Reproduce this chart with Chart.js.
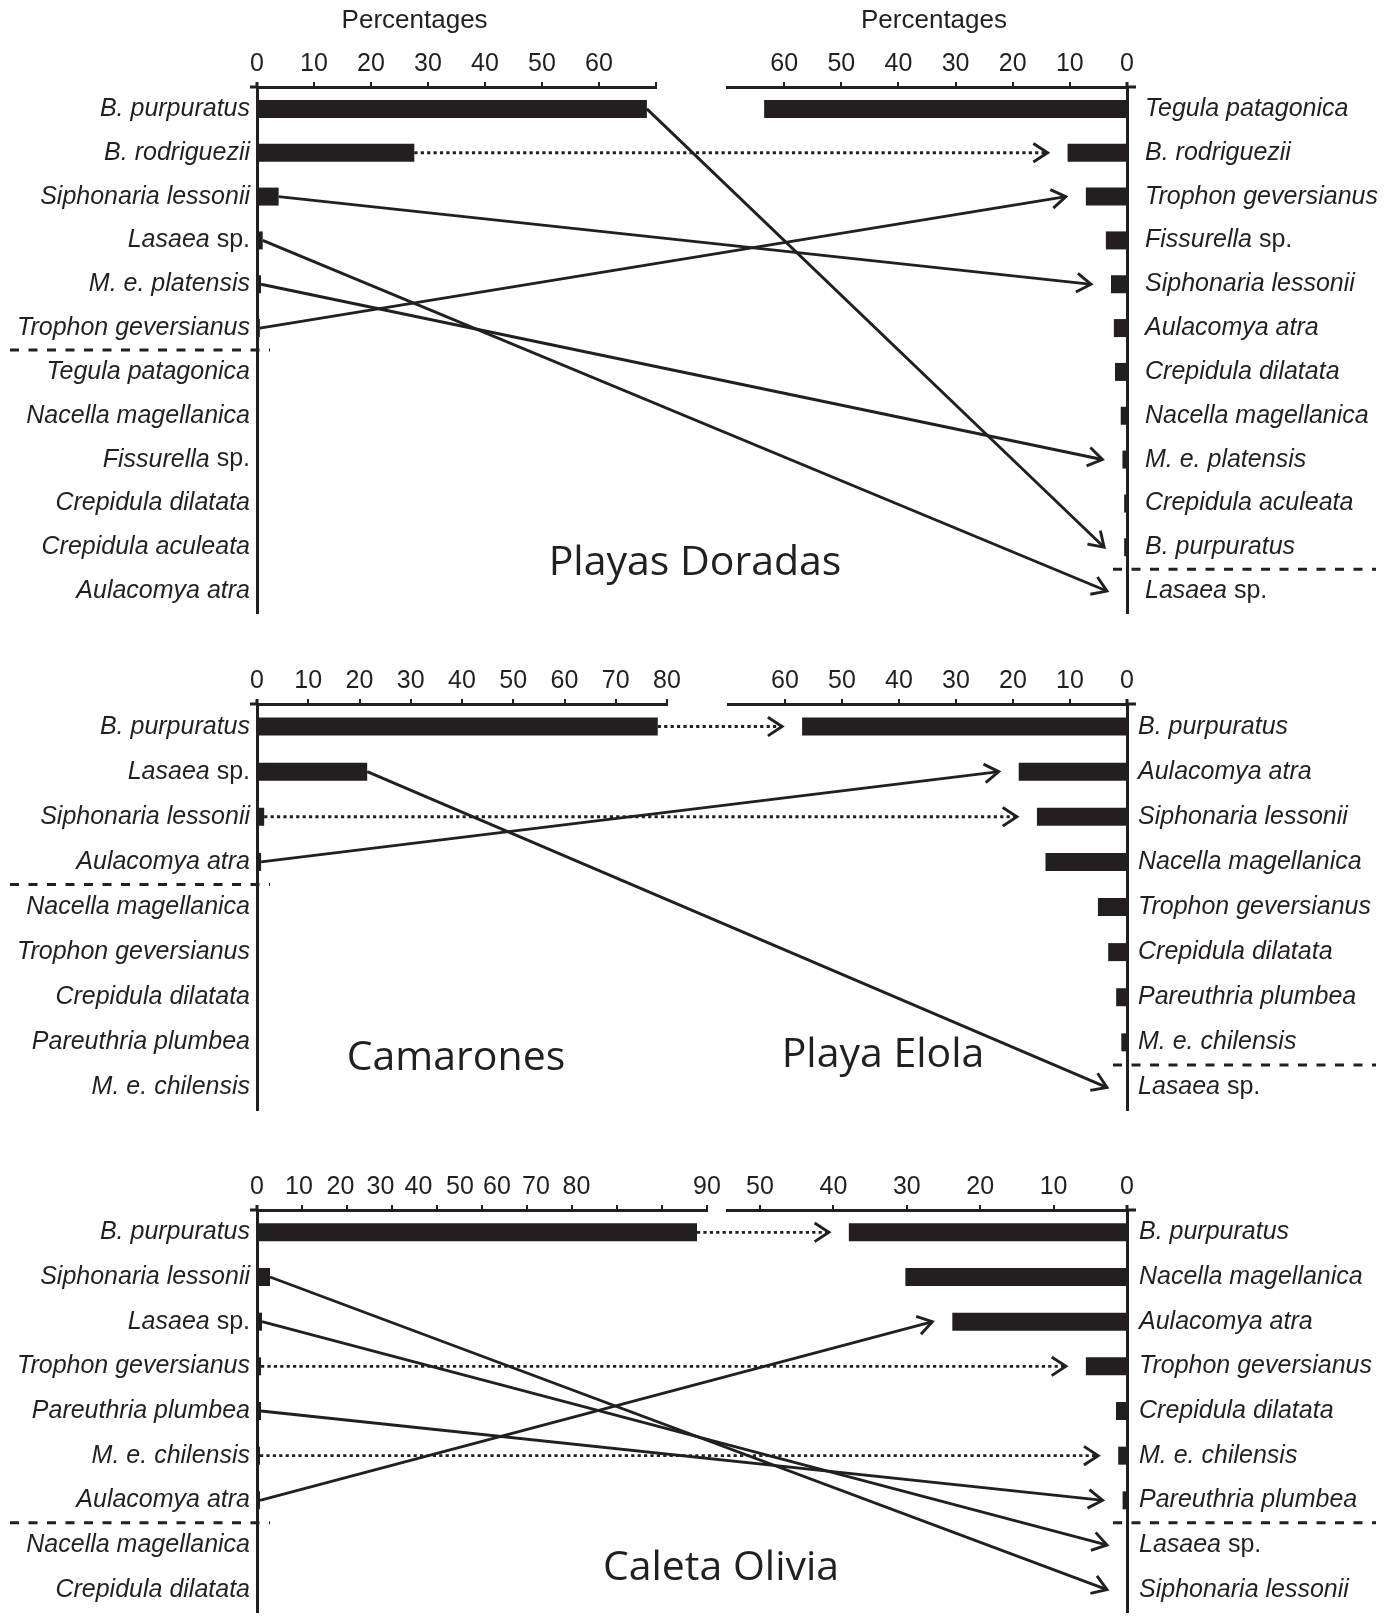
<!DOCTYPE html>
<html><head><meta charset="utf-8">
<script src="https://cdn.jsdelivr.net/npm/chart.js@4.4.1/dist/chart.umd.min.js"></script>
<style>
html,body{margin:0;padding:0;background:#fff;}
#wrap{position:relative;width:1398px;height:1616px;background:#fff;overflow:hidden;}
.panel{position:absolute;left:0;width:1398px;}
canvas{display:block;}
</style></head><body>
<div id="wrap">
<div class="panel" style="top:0px;height:622px"><canvas id="c1" width="1398" height="622"></canvas></div>
<div class="panel" style="top:640px;height:476px"><canvas id="c2" width="1398" height="476"></canvas></div>
<div class="panel" style="top:1150px;height:466px"><canvas id="c3" width="1398" height="466"></canvas></div>
</div>
<script>
// ---------------- DATA ----------------
// Panel 1: Playas Doradas
const p1LeftCategories = ['B. purpuratus','B. rodriguezii','Siphonaria lessonii','Lasaea sp.','M. e. platensis','Trophon geversianus','Tegula patagonica','Nacella magellanica','Fissurella sp.','Crepidula dilatata','Crepidula aculeata','Aulacomya atra'];
const p1LeftValues = [68.4, 27.6, 3.8, 1.0, 0.7, 0.5, 0, 0, 0, 0, 0, 0];
const p1RightCategories = ['Tegula patagonica','B. rodriguezii','Trophon geversianus','Fissurella sp.','Siphonaria lessonii','Aulacomya atra','Crepidula dilatata','Nacella magellanica','M. e. platensis','Crepidula aculeata','B. purpuratus','Lasaea sp.'];
const p1RightValues = [63.5, 10.4, 7.2, 3.7, 2.8, 2.3, 2.1, 1.1, 0.8, 0.5, 0.5, 0];
const p1Links = [['B. purpuratus','solid'],['B. rodriguezii','dotted'],['Siphonaria lessonii','solid'],['Lasaea sp.','solid'],['M. e. platensis','solid'],['Trophon geversianus','solid']];
const p1LeftSplitAfter = 5, p1RightSplitAfter = 10;
const p1AxisTitle = 'Percentages';
const p1LeftTickMarks = [0,10,20,30,40,50,60,70];
const p1LeftTickLabels = ['0','10','20','30','40','50','60'];
const p1LeftTickLabelAt = [0,10,20,30,40,50,60];
const p1RightTickMarks = [0,10,20,30,40,50,60];
const p1RightTickLabels = ['0','10','20','30','40','50','60'];
const p1RightTickLabelAt = [0,10,20,30,40,50,60];

// Panel 2: Camarones (left) vs. Playa Elola (right)
const p2LeftCategories = ['B. purpuratus','Lasaea sp.','Siphonaria lessonii','Aulacomya atra','Nacella magellanica','Trophon geversianus','Crepidula dilatata','Pareuthria plumbea','M. e. chilensis'];
const p2LeftValues = [78.2, 21.5, 1.4, 0.8, 0, 0, 0, 0, 0];
const p2RightCategories = ['B. purpuratus','Aulacomya atra','Siphonaria lessonii','Nacella magellanica','Trophon geversianus','Crepidula dilatata','Pareuthria plumbea','M. e. chilensis','Lasaea sp.'];
const p2RightValues = [57.0, 19.0, 15.8, 14.3, 5.1, 3.3, 1.9, 1.0, 0];
const p2Links = [['B. purpuratus','dotted'],['Lasaea sp.','solid'],['Siphonaria lessonii','dotted'],['Aulacomya atra','solid']];
const p2LeftSplitAfter = 3, p2RightSplitAfter = 7;
const p2LeftTickMarks = [0,10,20,30,40,50,60,70,80];
const p2LeftTickLabels = ['0','10','20','30','40','50','60','70','80'];
const p2LeftTickLabelAt = [0,10,20,30,40,50,60,70,80];
const p2RightTickMarks = [0,10,20,30,40,50,60];
const p2RightTickLabels = ['0','10','20','30','40','50','60'];
const p2RightTickLabelAt = [0,10,20,30,40,50,60];

// Panel 3: Caleta Olivia
const p3LeftCategories = ['B. purpuratus','Siphonaria lessonii','Lasaea sp.','Trophon geversianus','Pareuthria plumbea','M. e. chilensis','Aulacomya atra','Nacella magellanica','Crepidula dilatata'];
const p3LeftValues = [88.0, 2.6, 1.0, 0.8, 0.8, 0.6, 0.6, 0, 0];
const p3RightCategories = ['B. purpuratus','Nacella magellanica','Aulacomya atra','Trophon geversianus','Crepidula dilatata','M. e. chilensis','Pareuthria plumbea','Lasaea sp.','Siphonaria lessonii'];
const p3RightValues = [37.9, 30.2, 23.8, 5.6, 1.5, 1.2, 0.6, 0, 0];
const p3Links = [['B. purpuratus','dotted'],['Siphonaria lessonii','solid'],['Lasaea sp.','solid'],['Trophon geversianus','dotted'],['Pareuthria plumbea','solid'],['M. e. chilensis','dotted'],['Aulacomya atra','solid']];
const p3LeftSplitAfter = 6, p3RightSplitAfter = 6;
const p3LeftTickMarks = [0,9,18,27,36,45,54,63,72,81,90];
const p3LeftTickLabels = ['0','10','20','30','40','50','60','70','80','90'];
const p3LeftTickLabelAt = [0,8.4,16.7,24.7,32.3,40.6,48.0,55.8,63.9,90];
const p3RightTickMarks = [0,10,20,30,40,50];
const p3RightTickLabels = ['0','10','20','30','40','50'];
const p3RightTickLabelAt = [0,10,20,30,40,50];

// ---------------- STYLE / HELPERS ----------------
const INK = '#231f20';
const SANS = '"Liberation Sans", Arial, sans-serif';

function buildTicks(marks, labelAt, labels) {
  const ticks = marks.map(v => ({value: v, mark: true, text: ''}));
  labelAt.forEach((v, i) => {
    const t = ticks.find(k => Math.abs(k.value - v) < 1e-9);
    if (t) t.text = labels[i];
    else ticks.push({value: v, mark: false, text: labels[i]});
  });
  ticks.sort((a, b) => a.value - b.value);
  return ticks;
}

// order: higher weight is placed first (leftmost) in a top stack
function xAxis(o, height, order) {
  return {
    type: 'linear', position: 'top', stack: 'topRow', stackWeight: o.weight, weight: order,
    min: 0, max: o.max, reverse: !!o.reverse,
    afterBuildTicks: s => { s.ticks = buildTicks(o.marks, o.labelAt, o.labels); },
    afterFit: s => { s.height = height; },
    ticks: {autoSkip: false, maxRotation: 0, minRotation: 0, padding: 3, color: INK,
      font: {family: SANS, size: 25},
      callback: (v, i, ticks) => ticks[i].text},
    grid: {display: true, drawOnChartArea: false, drawTicks: true, tickLength: 5,
      lineWidth: 2, tickWidth: 2, color: 'rgba(0,0,0,0)',
      tickColor: c => (c.tick && c.tick.mark) ? INK : 'rgba(0,0,0,0)'},
    border: {display: true, width: 3, color: INK},
    title: {display: false}
  };
}

function speciesLabel(ctx, text, x, y, align) {
  const m = text.match(/^(.*?)( sp\.)$/);
  const parts = m ? [[m[1], 'italic'], [m[2], 'normal']] : [[text, 'italic']];
  ctx.save();
  ctx.fillStyle = INK; ctx.textBaseline = 'middle'; ctx.textAlign = 'left';
  const widths = parts.map(p => { ctx.font = p[1] + ' 25px ' + SANS; return ctx.measureText(p[0]).width; });
  const total = widths.reduce((a, b) => a + b, 0);
  let cx = align === 'right' ? x - total : x;
  parts.forEach((p, i) => { ctx.font = p[1] + ' 25px ' + SANS; ctx.fillText(p[0], cx, y); cx += widths[i]; });
  ctx.restore();
}

function line(ctx, x1, y1, x2, y2, w, dash) {
  ctx.save();
  ctx.strokeStyle = INK; ctx.lineWidth = w; ctx.lineCap = 'butt';
  if (dash) ctx.setLineDash(dash);
  ctx.beginPath(); ctx.moveTo(x1, y1); ctx.lineTo(x2, y2); ctx.stroke();
  ctx.restore();
}

function arrow(ctx, x1, y1, x2, y2, dotted) {
  const a = Math.atan2(y2 - y1, x2 - x1), L = 17, h = 0.58;
  line(ctx, x1, y1, x2 - 1.5 * Math.cos(a), y2 - 1.5 * Math.sin(a), 2.9, dotted ? [3.2, 3.2] : null);
  ctx.save();
  ctx.strokeStyle = INK; ctx.lineWidth = 2.9; ctx.lineJoin = 'miter';
  ctx.beginPath();
  ctx.moveTo(x2 - L * Math.cos(a - h), y2 - L * Math.sin(a - h));
  ctx.lineTo(x2, y2);
  ctx.lineTo(x2 - L * Math.cos(a + h), y2 - L * Math.sin(a + h));
  ctx.stroke();
  ctx.restore();
}

function overlay(cfg) {
  return {
    id: 'overlay',
    afterDraw(chart) {
      const ctx = chart.ctx, ca = chart.chartArea;
      const {xL, xR, yL, yR} = chart.scales;
      // small axis overshoots where the axes cross
      const ay = xL.bottom;
      line(ctx, ca.left - 7, ay, ca.left, ay, 3);
      line(ctx, ca.right, ay, ca.right + 9, ay, 3);
      line(ctx, ca.left, ca.top - 5, ca.left, ca.top, 3);
      line(ctx, ca.right, ca.top - 5, ca.right, ca.top, 3);
      // axis titles
      ctx.save();
      ctx.fillStyle = INK; ctx.textAlign = 'center'; ctx.textBaseline = 'middle';
      ctx.font = '26px ' + SANS;
      (cfg.axisTitles || []).forEach(t => {
        const s = chart.scales[t.axis];
        ctx.fillText(t.text, s.left + t.frac * s.width, t.y);
      });
      ctx.restore();
      // species labels
      cfg.leftCats.forEach((c, i) => speciesLabel(ctx, c, ca.left - 7, yL.getPixelForValue(i), 'right'));
      cfg.rightCats.forEach((c, i) => speciesLabel(ctx, c, ca.right + cfg.rightLabelGap, yR.getPixelForValue(i), 'left'));
      // dashed separators
      const yl = (yL.getPixelForValue(cfg.leftSplit) + yL.getPixelForValue(cfg.leftSplit + 1)) / 2;
      line(ctx, 10, yl, ca.left + 13, yl, 3, [9, 9.5]);
      const yr = (yR.getPixelForValue(cfg.rightSplit) + yR.getPixelForValue(cfg.rightSplit + 1)) / 2;
      line(ctx, ca.right - 14, yr, ca.right + 249, yr, 3, [9, 9.5]);
      // arrows
      cfg.links.forEach(([name, style]) => {
        const i = cfg.leftCats.indexOf(name), j = cfg.rightCats.indexOf(name);
        const x1 = xL.getPixelForValue(cfg.leftVals[i]), y1 = yL.getPixelForValue(i);
        const x2 = xR.getPixelForValue(cfg.rightVals[j]) - 20, y2 = yR.getPixelForValue(j);
        arrow(ctx, x1, y1, x2, y2, style === 'dotted');
      });
      // site names
      ctx.save();
      ctx.fillStyle = INK; ctx.textAlign = 'center'; ctx.textBaseline = 'alphabetic';
      ctx.font = '41px "Open Sans", "Noto Sans", sans-serif';
      cfg.names.forEach(n => ctx.fillText(n.text, n.x, n.y));
      ctx.restore();
    }
  };
}

function makePanel(cfg) {
  const barStyle = {backgroundColor: INK, borderWidth: 0, barThickness: 18, grouped: false, inflateAmount: 0};
  return new Chart(document.getElementById(cfg.id), {
    type: 'bar',
    data: {
      datasets: [
        Object.assign({data: cfg.leftVals, xAxisID: 'xL', yAxisID: 'yL'}, barStyle),
        Object.assign({data: cfg.rightVals, xAxisID: 'xR', yAxisID: 'yR'}, barStyle)
      ]
    },
    options: {
      indexAxis: 'y', responsive: false, animation: false, devicePixelRatio: 1, events: [],
      layout: {padding: {top: 0, left: 0, right: 0, bottom: cfg.padBottom}},
      plugins: {legend: {display: false}, tooltip: {enabled: false}, title: {display: false}},
      scales: {
        xL: xAxis(cfg.xL, cfg.axisHeight, 2),
        xGap: {type: 'linear', position: 'top', stack: 'topRow', stackWeight: cfg.gapWeight, weight: 1, min: 0, max: 1,
          grid: {display: false, drawTicks: false}, border: {display: false}, ticks: {display: false},
          afterFit: s => { s.height = cfg.axisHeight; }},
        xR: xAxis(cfg.xR, cfg.axisHeight, 0),
        yL: {type: 'category', position: 'left', labels: cfg.leftCats, offset: true,
          grid: {display: false}, ticks: {display: false}, border: {display: true, width: 3, color: INK},
          afterFit: s => { s.width = 257; }},
        yR: {type: 'category', position: 'right', labels: cfg.rightCats, offset: true,
          grid: {display: false}, ticks: {display: false}, border: {display: true, width: 3, color: INK},
          afterFit: s => { s.width = 271; }}
      }
    },
    plugins: [overlay(cfg)]
  });
}

makePanel({
  id: 'c1', leftCats: p1LeftCategories, leftVals: p1LeftValues, rightCats: p1RightCategories, rightVals: p1RightValues,
  links: p1Links, leftSplit: p1LeftSplitAfter, rightSplit: p1RightSplitAfter,
  xL: {max: 70, marks: p1LeftTickMarks, labels: p1LeftTickLabels, labelAt: p1LeftTickLabelAt, weight: 399},
  xR: {max: 70, reverse: true, marks: p1RightTickMarks, labels: p1RightTickLabels, labelAt: p1RightTickLabelAt, weight: 400},
  gapWeight: 71, axisHeight: 87, padBottom: 9, rightLabelGap: 18,
  axisTitles: [{axis: 'xL', text: p1AxisTitle, frac: 0.395, y: 21}, {axis: 'xR', text: p1AxisTitle, frac: 0.5175, y: 21}],
  names: [{text: 'Playas Doradas', x: 695, y: 575}]
});
makePanel({
  id: 'c2', leftCats: p2LeftCategories, leftVals: p2LeftValues, rightCats: p2RightCategories, rightVals: p2RightValues,
  links: p2Links, leftSplit: p2LeftSplitAfter, rightSplit: p2RightSplitAfter,
  xL: {max: 80, marks: p2LeftTickMarks, labels: p2LeftTickLabels, labelAt: p2LeftTickLabelAt, weight: 410},
  xR: {max: 70, reverse: true, marks: p2RightTickMarks, labels: p2RightTickLabels, labelAt: p2RightTickLabelAt, weight: 399},
  gapWeight: 61, axisHeight: 64, padBottom: 6, rightLabelGap: 11,
  names: [{text: 'Camarones', x: 456, y: 430}, {text: 'Playa Elola', x: 883, y: 427}]
});
makePanel({
  id: 'c3', leftCats: p3LeftCategories, leftVals: p3LeftValues, rightCats: p3RightCategories, rightVals: p3RightValues,
  links: p3Links, leftSplit: p3LeftSplitAfter, rightSplit: p3RightSplitAfter,
  xL: {max: 90, marks: p3LeftTickMarks, labels: p3LeftTickLabels, labelAt: p3LeftTickLabelAt, weight: 450},
  xR: {max: 54.5, reverse: true, marks: p3RightTickMarks, labels: p3RightTickLabels, labelAt: p3RightTickLabelAt, weight: 400},
  gapWeight: 20, axisHeight: 60, padBottom: 4, rightLabelGap: 12,
  names: [{text: 'Caleta Olivia', x: 721, y: 430}]
});
</script>
</body></html>
